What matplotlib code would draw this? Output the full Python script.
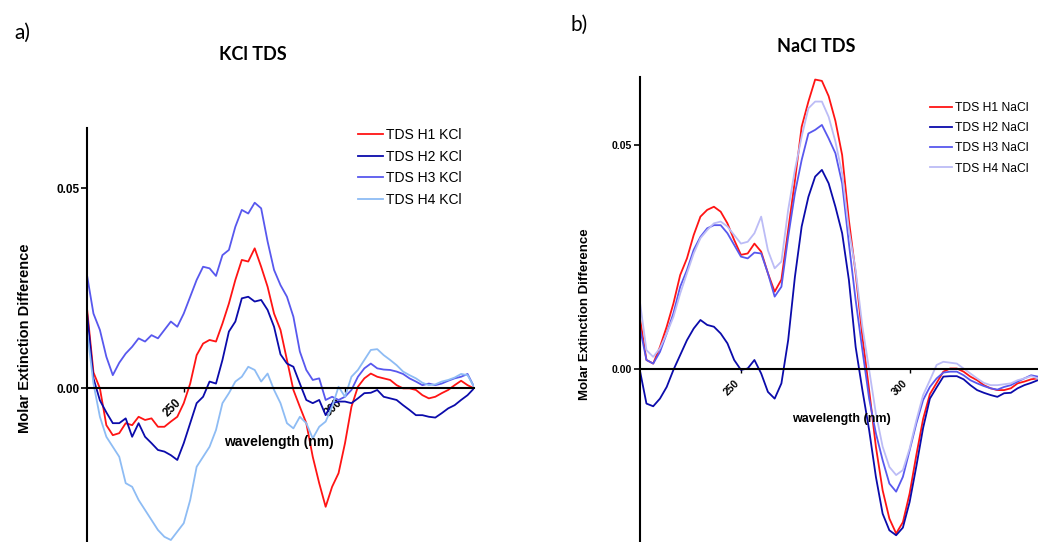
import numpy as np
import matplotlib
matplotlib.use("Agg")
import matplotlib.pyplot as plt

# ---------------- data ----------------
wl_kcl = list(range(220, 341, 2))
kcl_h1 = [0.0200, 0.0040, 0.0000, -0.0092, -0.0117, -0.0112, -0.0087, -0.0092, -0.0071, -0.0079,
          -0.0075, -0.0096, -0.0096, -0.0083, -0.0071, -0.0037, 0.0012, 0.0083, 0.0112, 0.0121,
          0.0117, 0.0162, 0.0212, 0.0271, 0.0321, 0.0317, 0.0350, 0.0304, 0.0254, 0.0187,
          0.0146, 0.0071, -0.0004, -0.0046, -0.0087, -0.0171, -0.0237, -0.0296, -0.0246, -0.0212,
          -0.0137, -0.0046, 0.0004, 0.0025, 0.0037, 0.0029, 0.0025, 0.0021, 0.0008, 0.0000,
          0.0000, -0.0004, -0.0017, -0.0025, -0.0021, -0.0012, -0.0004, 0.0008, 0.0019, 0.0008,
          0.0000]
kcl_h2 = [0.0190, 0.0025, -0.0030, -0.0060, -0.0087, -0.0087, -0.0075, -0.0121, -0.0087, -0.0121,
          -0.0137, -0.0154, -0.0158, -0.0167, -0.0179, -0.0137, -0.0087, -0.0037, -0.0021, 0.0017,
          0.0012, 0.0071, 0.0142, 0.0167, 0.0225, 0.0229, 0.0217, 0.0221, 0.0196, 0.0154,
          0.0085, 0.0062, 0.0054, 0.0012, -0.0029, -0.0037, -0.0029, -0.0067, -0.0037, -0.0033,
          -0.0033, -0.0037, -0.0025, -0.0012, -0.0011, -0.0004, -0.0021, -0.0025, -0.0029, -0.0042,
          -0.0054, -0.0067, -0.0067, -0.0071, -0.0073, -0.0062, -0.0050, -0.0042, -0.0029, -0.0017,
          0.0000]
kcl_h3 = [0.0283, 0.0187, 0.0146, 0.0079, 0.0033, 0.0064, 0.0087, 0.0104, 0.0125, 0.0117,
          0.0133, 0.0125, 0.0146, 0.0167, 0.0154, 0.0187, 0.0229, 0.0271, 0.0304, 0.0300,
          0.0281, 0.0333, 0.0346, 0.0404, 0.0446, 0.0437, 0.0464, 0.0450, 0.0367, 0.0296,
          0.0258, 0.0229, 0.0179, 0.0092, 0.0046, 0.0021, 0.0025, -0.0029, -0.0021, -0.0029,
          -0.0021, -0.0004, 0.0029, 0.0050, 0.0062, 0.0050, 0.0047, 0.0046, 0.0042, 0.0036,
          0.0025, 0.0017, 0.0008, 0.0012, 0.0008, 0.0012, 0.0019, 0.0025, 0.0029, 0.0036,
          0.0004]
kcl_h4 = [0.0146, 0.0012, -0.0071, -0.0121, -0.0146, -0.0171, -0.0237, -0.0246, -0.0279, -0.0304,
          -0.0329, -0.0354, -0.0371, -0.0379, -0.0358, -0.0337, -0.0279, -0.0196, -0.0171, -0.0146,
          -0.0104, -0.0037, -0.0012, 0.0017, 0.0029, 0.0054, 0.0046, 0.0017, 0.0037, -0.0004,
          -0.0037, -0.0087, -0.0100, -0.0071, -0.0087, -0.0125, -0.0096, -0.0083, -0.0046, 0.0004,
          -0.0021, 0.0029, 0.0046, 0.0071, 0.0096, 0.0098, 0.0083, 0.0071, 0.0058, 0.0042,
          0.0033, 0.0025, 0.0014, 0.0008, 0.0010, 0.0017, 0.0021, 0.0027, 0.0036, 0.0033,
          0.0004]

wl_nacl = list(range(220, 339, 2))
nacl_h1 = [0.0117, 0.0021, 0.0013, 0.0050, 0.0095, 0.0147, 0.0210, 0.0247, 0.0299, 0.0340,
           0.0355, 0.0362, 0.0351, 0.0325, 0.0288, 0.0255, 0.0258, 0.0280, 0.0262, 0.0214,
           0.0173, 0.0200, 0.0310, 0.0420, 0.0540, 0.0596, 0.0645, 0.0642, 0.0608, 0.0553,
           0.0477, 0.0332, 0.0214, 0.0073, -0.0046, -0.0172, -0.0269, -0.0332, -0.0365, -0.0340,
           -0.0276, -0.0190, -0.0110, -0.0055, -0.0030, -0.0005, 0.0002, 0.0002, -0.0005, -0.0016,
           -0.0024, -0.0035, -0.0042, -0.0046, -0.0046, -0.0042, -0.0031, -0.0027, -0.0022, -0.0020]
nacl_h2 = [0.0000, -0.0076, -0.0082, -0.0065, -0.0039, -0.0001, 0.0032, 0.0065, 0.0091, 0.0110,
           0.0099, 0.0095, 0.0080, 0.0058, 0.0021, -0.0001, 0.0002, 0.0021, -0.0009, -0.0050,
           -0.0065, -0.0031, 0.0065, 0.0206, 0.0318, 0.0384, 0.0429, 0.0444, 0.0414, 0.0362,
           0.0303, 0.0199, 0.0050, -0.0046, -0.0135, -0.0239, -0.0321, -0.0358, -0.0369, -0.0352,
           -0.0295, -0.0215, -0.0130, -0.0065, -0.0040, -0.0016, -0.0015, -0.0015, -0.0022, -0.0035,
           -0.0046, -0.0052, -0.0057, -0.0061, -0.0053, -0.0052, -0.0042, -0.0035, -0.0030, -0.0024]
nacl_h3 = [0.0095, 0.0021, 0.0013, 0.0039, 0.0080, 0.0125, 0.0184, 0.0221, 0.0266, 0.0295,
           0.0314, 0.0321, 0.0321, 0.0303, 0.0277, 0.0251, 0.0247, 0.0260, 0.0258, 0.0214,
           0.0162, 0.0184, 0.0295, 0.0392, 0.0466, 0.0525, 0.0533, 0.0544, 0.0514, 0.0481,
           0.0414, 0.0280, 0.0154, 0.0043, -0.0065, -0.0142, -0.0202, -0.0254, -0.0272, -0.0239,
           -0.0180, -0.0120, -0.0068, -0.0039, -0.0020, -0.0007, -0.0005, -0.0005, -0.0013, -0.0024,
           -0.0031, -0.0037, -0.0042, -0.0045, -0.0039, -0.0035, -0.0027, -0.0020, -0.0013, -0.0016]
nacl_h4 = [0.0154, 0.0043, 0.0028, 0.0047, 0.0080, 0.0117, 0.0169, 0.0214, 0.0258, 0.0292,
           0.0310, 0.0325, 0.0329, 0.0318, 0.0299, 0.0280, 0.0284, 0.0303, 0.0340, 0.0265,
           0.0225, 0.0240, 0.0355, 0.0444, 0.0518, 0.0581, 0.0596, 0.0596, 0.0562, 0.0507,
           0.0436, 0.0310, 0.0221, 0.0095, -0.0001, -0.0098, -0.0172, -0.0217, -0.0235, -0.0224,
           -0.0176, -0.0113, -0.0057, -0.0024, 0.0010, 0.0017, 0.0015, 0.0013, 0.0002, -0.0009,
           -0.0020, -0.0030, -0.0035, -0.0035, -0.0033, -0.0031, -0.0024, -0.0020, -0.0015, -0.0020]

labels_kcl = ["TDS H1 KCl", "TDS H2 KCl", "TDS H3 KCl", "TDS H4 KCl"]
labels_nacl = ["TDS H1 NaCl", "TDS H2 NaCl", "TDS H3 NaCl", "TDS H4 NaCl"]
x_ticks = [250, 300]
y_ticks = [0.00, 0.05]
y_ticklabels = ["0.00", "0.05"]

# ---------------- style ----------------
c_red = "#ff1414"
c_navy = "#0b0bab"
c_mid = "#5858ee"
c_light_a = "#8ebcf4"
c_light_b = "#bcbcf6"
SANS = "Liberation Sans"
TITLE = "Lato"

W, H = 1038, 542
fig = plt.figure(figsize=(W / 100, H / 100), dpi=100)


def fx(px):
    return px / W


def fy(py):
    return 1 - py / H


def setup_axes(ax, tick_fs, xlim):
    ax.set_xlim(*xlim)
    ax.set_ylim(-0.0384, 0.065)
    for s in ("top", "right"):
        ax.spines[s].set_visible(False)
    ax.spines["bottom"].set_position(("data", 0))
    ax.spines["left"].set_linewidth(1.5)
    ax.spines["bottom"].set_linewidth(1.5)
    ax.set_xticks(x_ticks)
    ax.set_xticklabels([str(t) for t in x_ticks], rotation=45, ha="right", va="top",
                       fontsize=tick_fs, fontweight="bold", family=SANS)
    ax.set_yticks(y_ticks)
    ax.set_yticklabels(y_ticklabels, fontsize=tick_fs, fontweight="bold", family=SANS)
    ax.tick_params(axis="y", length=4.5, width=1.2, pad=1)
    ax.tick_params(axis="x", length=3, width=1.0, pad=3)
    ax.patch.set_alpha(0)


# ---------------- panel a ----------------
ax1 = fig.add_axes([fx(87), 0, fx(474) - fx(87), (542 - 128.3) / H])
setup_axes(ax1, 8.5, (220, 340))
for ys, col, lab in zip([kcl_h1, kcl_h2, kcl_h3, kcl_h4],
                        [c_red, c_navy, c_mid, c_light_a], labels_kcl):
    ax1.plot(wl_kcl, ys, color=col, lw=1.3, label=lab)
ax1.legend(loc="upper left", bbox_to_anchor=(fx(358), fy(128)),
           bbox_transform=fig.transFigure, frameon=False,
           prop={"family": SANS, "size": 10}, handlelength=1.8,
           handletextpad=0.25, labelspacing=0.55, borderpad=0, borderaxespad=0)

# ---------------- panel b ----------------
ax2 = fig.add_axes([fx(639.7), 0, fx(1044.6) - fx(639.7), (542 - 77.3) / H])
setup_axes(ax2, 7.5, (220, 340))
for ys, col, lab in zip([nacl_h1, nacl_h2, nacl_h3, nacl_h4],
                        [c_red, c_navy, c_mid, c_light_b], labels_nacl):
    ax2.plot(wl_nacl, ys, color=col, lw=1.3, label=lab)
ax2.legend(loc="upper left", bbox_to_anchor=(fx(930), fy(102)),
           bbox_transform=fig.transFigure, frameon=False,
           prop={"family": SANS, "size": 8.7}, handlelength=1.8,
           handletextpad=0.25, labelspacing=0.68, borderpad=0, borderaxespad=0)

# ---------------- texts ----------------
fig.text(fx(22), fy(33), "a)", fontsize=15, family=TITLE, ha="center", va="center")
fig.text(fx(579), fy(25), "b)", fontsize=15, family=TITLE, ha="center", va="center")
fig.text(fx(253), fy(54), "KCl TDS", fontsize=13, family=TITLE, fontweight="bold",
         ha="center", va="center")
fig.text(fx(816), fy(47), "NaCl TDS", fontsize=13, family=TITLE, fontweight="bold",
         ha="center", va="center")
fig.text(fx(25), fy(338), "Molar Extinction Difference", rotation=90, fontsize=10.5,
         family=SANS, fontweight="bold", ha="center", va="center")
fig.text(fx(584.5), fy(314), "Molar Extinction Difference", rotation=90, fontsize=9.5,
         family=SANS, fontweight="bold", ha="center", va="center")
fig.text(fx(279), fy(442), "wavelength (nm)", fontsize=10, family=SANS,
         fontweight="bold", ha="center", va="center")
fig.text(fx(841.5), fy(419), "wavelength (nm)", fontsize=9, family=SANS,
         fontweight="bold", ha="center", va="center")

fig.savefig("out.png", dpi=100)
